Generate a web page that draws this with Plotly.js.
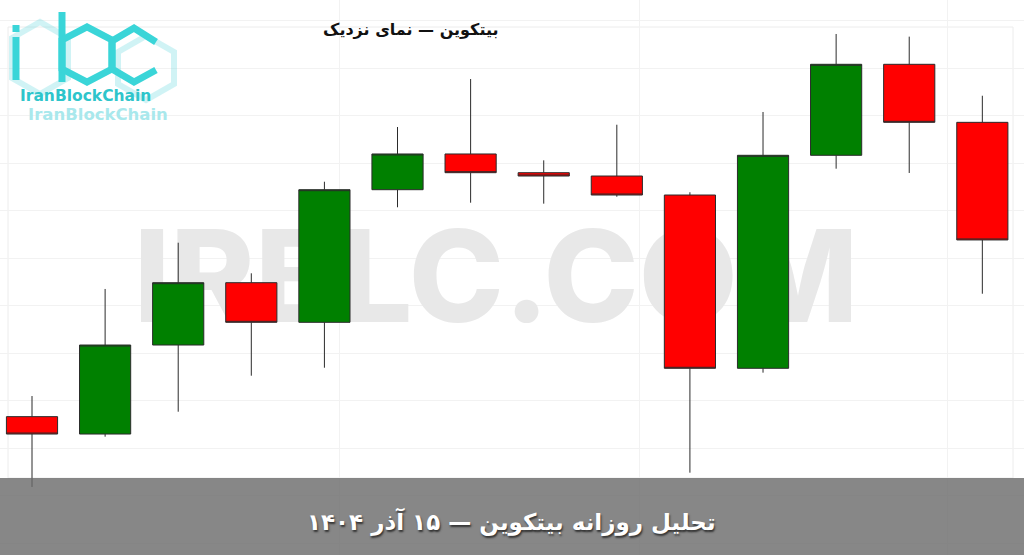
<!DOCTYPE html>
<html>
<head>
<meta charset="utf-8">
<script src="https://cdn.plot.ly/plotly-3.0.1.min.js"></script>
<style>
html,body{margin:0;padding:0;background:#fff;}
#chart{width:1024px;height:555px;}
</style>
</head>
<body>
<div id="chart"></div>
<script>
// ---- data ----
const candleIndex = [0,1,2,3,4,5,6,7,8,9,10,11,12,13];
const opens  = [88330, 88147, 89084, 89740, 89323, 90719, 91095, 90898, 90863, 90663, 88839, 91081, 92039, 91428];
const highs  = [88547, 89674, 90161, 89839, 90803, 91379, 91884, 91028, 91403, 90692, 91537, 92358, 92330, 91708];
const lows   = [87590, 88119, 88382, 88761, 88845, 90534, 90582, 90572, 90645, 87740, 88793, 90940, 90895, 89624];
const closes = [88147, 89084, 89740, 89323, 90719, 91095, 90898, 90863, 90663, 88839, 91081, 92039, 91428, 90190];

const chartTitle = 'بیتکوین — نمای نزدیک';
const bandTitle = 'تحلیل روزانه بیتکوین — ۱۵ آذر ۱۴۰۴';
const watermark = 'IRBLC.COM';
const brand = 'IranBlockChain';

// ---- traces ----
const watermarkTrace = {
  type: 'scatter', mode: 'text',
  x: [496], y: [290], text: [watermark],
  textposition: 'middle center',
  textfont: {family: 'Inter', size: 128, color: '#e8e8e8', weight: 800},
  hoverinfo: 'skip', showlegend: false,
  xaxis: 'x', yaxis: 'y'
};

const candles = {
  type: 'candlestick',
  x: candleIndex, open: opens, high: highs, low: lows, close: closes,
  increasing: {fillcolor: '#008000', line: {color: '#2b2b2b', width: 1}},
  decreasing: {fillcolor: '#ff0000', line: {color: '#2b2b2b', width: 1}},
  whiskerwidth: 0,
  hoverinfo: 'skip', showlegend: false,
  xaxis: 'x2', yaxis: 'y2'
};

const cyan = '#3ad5d8';
const cyanLight = 'rgba(120,220,225,0.35)';

const shapes = [
  // faint frame
  {type:'rect', xref:'x', yref:'y', x0:8, x1:1013, y0:27, y1:478, line:{color:'#ececec', width:1}, layer:'below'},
  // faded hexagons of the logo
  {type:'path', xref:'x', yref:'y', path:'M 12 38 L 40 22 L 68 38 L 68 78 L 40 94 L 12 78 Z', line:{color:cyanLight, width:6}, layer:'above'},
  {type:'path', xref:'x', yref:'y', path:'M 118 52 L 146 36 L 174 52 L 174 84 L 146 100 L 118 84 Z', line:{color:cyanLight, width:6}, layer:'above'},
  // i
  {type:'line', xref:'x', yref:'y', x0:16, x1:16, y0:25, y1:32, line:{color:cyan, width:7}},
  {type:'line', xref:'x', yref:'y', x0:16, x1:16, y0:37, y1:80, line:{color:cyan, width:7}},
  // b
  {type:'line', xref:'x', yref:'y', x0:62, x1:62, y0:12, y1:82, line:{color:cyan, width:7}},
  {type:'path', xref:'x', yref:'y', path:'M 62 40 L 87 27 L 112 40 L 112 69 L 87 82 L 62 69 Z', line:{color:cyan, width:7}},
  // c
  {type:'path', xref:'x', yref:'y', path:'M 156 42 L 134 28 L 112 41 L 112 69 L 134 82 L 156 70', line:{color:cyan, width:7}},
  // bottom band
  {type:'rect', xref:'x', yref:'y', x0:0, x1:1024, y0:478, y1:556, fillcolor:'rgba(105,105,105,0.8)', line:{width:0}, layer:'above'}
];

const annotations = [
  {xref:'x', yref:'y', x:411, y:29, text:'<b>'+chartTitle+'</b>', showarrow:false,
   font:{family:'DejaVu Sans', size:16, color:'#111'}},
  {xref:'x', yref:'y', x:85, y:96, text:'<b>'+brand+'</b>', showarrow:false,
   font:{family:'DejaVu Sans', size:15.5, color:'#2ec5cb'}},
  {xref:'x', yref:'y', x:98, y:114, text:'<b>'+brand+'</b>', showarrow:false,
   font:{family:'DejaVu Sans', size:16.5, color:'#a9e8ec'}},
  {xref:'x', yref:'y', x:511, y:521, text:'<b>'+bandTitle+'</b>', showarrow:false,
   font:{family:'DejaVu Sans', size:23, color:'#ffffff', shadow:'1px 2px 2px #333'}}
];

const hidden = {showticklabels:false, ticks:'', showline:false, zeroline:false};

const layout = {
  width: 1024, height: 555,
  margin: {l:0, r:0, t:0, b:0, pad:0},
  paper_bgcolor: '#ffffff', plot_bgcolor: '#ffffff',
  showlegend: false, hovermode: false, dragmode: false,
  boxgap: 0.3, boxgroupgap: 0,
  xaxis: Object.assign({range:[0,1024], showgrid:false, fixedrange:true}, hidden),
  yaxis: Object.assign({range:[555,0], showgrid:false, fixedrange:true}, hidden),
  xaxis2: Object.assign({overlaying:'x', range:[-0.4378, 13.57], showgrid:true, gridcolor:'#f2f2f2',
    tickmode:'array', tickvals:[4.213, 8.304, 12.517], rangeslider:{visible:false}, fixedrange:true}, hidden),
  yaxis2: Object.assign({overlaying:'y', range:[86873.7, 92715.8], showgrid:true, gridcolor:'#f2f2f2',
    tick0:0, dtick:500, fixedrange:true}, hidden),
  shapes: shapes,
  annotations: annotations
};

Plotly.newPlot('chart', [watermarkTrace, candles], layout, {displayModeBar:false, staticPlot:true});
</script>
</body>
</html>
